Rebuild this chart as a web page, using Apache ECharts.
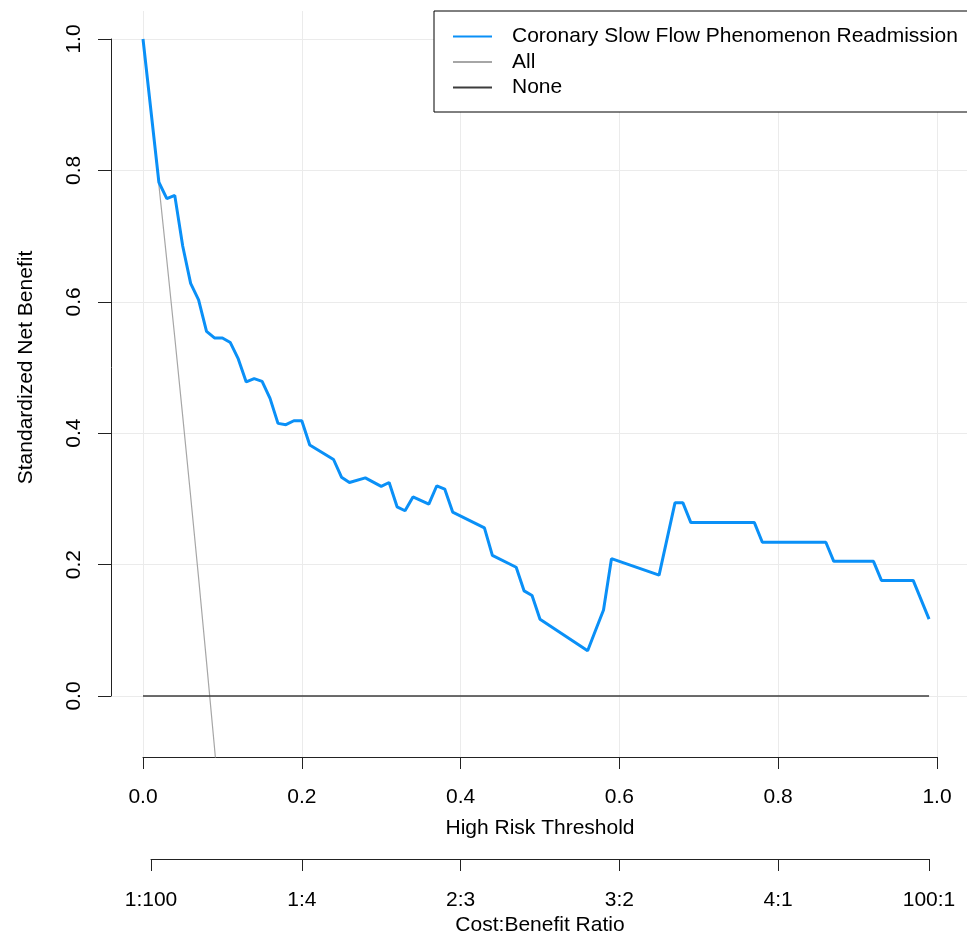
<!DOCTYPE html>
<html>
<head>
<meta charset="utf-8">
<script src="https://cdn.jsdelivr.net/npm/echarts@6/dist/echarts.min.js"></script>
<style>
  html, body { margin: 0; padding: 0; background: #fff; }
  #myChart { width: 967px; height: 937px; }
</style>
</head>
<body>
<div id="myChart"></div>
<script>
// decision curve data
const thresholds = [0, 0.02, 0.03, 0.04, 0.05, 0.06, 0.07, 0.08, 0.09, 0.10,
  0.11, 0.12, 0.13, 0.14, 0.15, 0.16, 0.17, 0.18, 0.19, 0.20,
  0.21, 0.24, 0.25, 0.26, 0.28, 0.30, 0.31, 0.32, 0.33, 0.34,
  0.36, 0.37, 0.38, 0.39, 0.43, 0.44, 0.47, 0.48, 0.49, 0.50,
  0.56, 0.57, 0.58, 0.59, 0.65, 0.67, 0.68, 0.69, 0.77, 0.78,
  0.86, 0.87, 0.92, 0.93, 0.97, 0.99];
const netBenefit = [1.0, 0.782, 0.757, 0.762, 0.685, 0.628, 0.603, 0.555, 0.545, 0.545,
  0.538, 0.513, 0.478, 0.483, 0.479, 0.453, 0.415, 0.413, 0.419, 0.419,
  0.382, 0.360, 0.333, 0.325, 0.332, 0.319, 0.325, 0.288, 0.282, 0.303,
  0.292, 0.320, 0.315, 0.280, 0.256, 0.214, 0.196, 0.160, 0.153, 0.117,
  0.069, 0.100, 0.131, 0.209, 0.184, 0.294, 0.294, 0.264, 0.264, 0.234,
  0.234, 0.205, 0.205, 0.176, 0.176, 0.117];

const allThresholds = [0, 0.01, 0.02, 0.03, 0.04, 0.05, 0.06, 0.07, 0.08, 0.09, 0.10];
const allBenefit = [1.0, 0.89, 0.778, 0.663, 0.546, 0.426, 0.304, 0.18, 0.052, -0.078, -0.211];

const noneThresholds = [0, 0.99];
const noneBenefit = [0, 0];

const costTickValues = [0.01, 0.2, 0.4, 0.6, 0.8, 0.99];
const costTickLabels = ['1:100', '1:4', '2:3', '3:2', '4:1', '100:1'];

const seriesNames = ['Coronary Slow Flow Phenomenon Readmission', 'All', 'None'];

function zip(xs, ys) {
  return xs.map((x, i) => [x, ys[i]]);
}

const font = 'Liberation Sans, Arial, Helvetica, sans-serif';
const gridColor = '#ebebeb';
const axisColor = '#222';

const myChart = echarts.init(document.getElementById('myChart'));

const option = {
  animation: false,
  backgroundColor: '#fff',
  textStyle: { fontFamily: font },
  grid: [
    // plotting area (x from 0 to 1)
    { left: 143, width: 794, top: 11, height: 746, outerBoundsMode: 'none' },
    // y axis + horizontal grid lines
    { left: 111, width: 856, top: 39, height: 657, outerBoundsMode: 'none' },
    // cost:benefit axis
    { left: 151, width: 778, top: 800, height: 59, outerBoundsMode: 'none' }
  ],
  xAxis: [
    {
      gridIndex: 0, type: 'value', min: 0, max: 1, interval: 0.2,
      axisLine: { show: true, onZero: false, lineStyle: { color: axisColor, width: 1 } },
      axisTick: { show: true, length: 12, lineStyle: { color: axisColor } },
      axisLabel: { fontSize: 21, lineHeight: 21, color: '#000', margin: 30, fontFamily: font,
        formatter: v => v.toFixed(1) },
      splitLine: { show: true, lineStyle: { color: gridColor, width: 1 } },
      name: 'High Risk Threshold', nameLocation: 'middle', nameGap: 61,
      nameTextStyle: { fontSize: 21, lineHeight: 21, color: '#000', fontFamily: font }
    },
    { gridIndex: 1, type: 'value', min: 0, max: 1, show: false },
    {
      gridIndex: 2, type: 'value', min: 0.01, max: 0.99,
      axisLine: { show: true, onZero: false, lineStyle: { color: axisColor, width: 1 } },
      axisTick: { show: true, length: 12, customValues: costTickValues, lineStyle: { color: axisColor } },
      axisLabel: {
        fontSize: 21, lineHeight: 21, color: '#000', margin: 31, fontFamily: font,
        customValues: costTickValues,
        formatter: v => {
          const i = costTickValues.findIndex(c => Math.abs(c - v) < 1e-6);
          return i >= 0 ? costTickLabels[i] : '';
        }
      },
      splitLine: { show: false },
      name: 'Cost:Benefit Ratio', nameLocation: 'middle', nameGap: 56,
      nameTextStyle: { fontSize: 21, lineHeight: 21, color: '#000', fontFamily: font }
    }
  ],
  yAxis: [
    { gridIndex: 0, type: 'value', min: -0.0928, max: 1.0426, show: false },
    {
      gridIndex: 1, type: 'value', min: 0, max: 1, interval: 0.2,
      axisLine: { show: true, lineStyle: { color: axisColor, width: 1 } },
      axisTick: { show: true, length: 13, lineStyle: { color: axisColor } },
      axisLabel: { fontSize: 21, lineHeight: 21, color: '#000', margin: 26, rotate: 90, fontFamily: font,
        formatter: v => v.toFixed(1) },
      splitLine: { show: true, lineStyle: { color: gridColor, width: 1 } },
      name: 'Standardized Net Benefit', nameLocation: 'middle', nameGap: 74, nameRotate: 90,
      nameTextStyle: { fontSize: 21, lineHeight: 21, color: '#000', fontFamily: font }
    },
    { gridIndex: 2, type: 'value', min: 0, max: 1, show: false }
  ],
  legend: {
    orient: 'vertical',
    left: 434, top: 11,
    padding: [15, 30, 14, 18],
    itemGap: 4.5,
    itemWidth: 39,
    itemHeight: 14,
    borderColor: '#000',
    borderWidth: 1,
    backgroundColor: '#fff',
    data: seriesNames.map(n => ({ name: n, itemStyle: { opacity: 0 } })),
    textStyle: { fontSize: 21, lineHeight: 21, color: '#000', fontFamily: font, padding: [0, 0, 0, 15] }
  },
  series: [
    {
      name: seriesNames[1], type: 'line', xAxisIndex: 0, yAxisIndex: 0,
      data: zip(allThresholds, allBenefit),
      symbol: 'none', clip: true, z: 2,
      lineStyle: { color: '#a6a6a6', width: 1.2 },
      itemStyle: { color: '#a6a6a6' }
    },
    {
      name: seriesNames[2], type: 'line', xAxisIndex: 0, yAxisIndex: 0,
      data: zip(noneThresholds, noneBenefit),
      symbol: 'none', clip: true, z: 2,
      lineStyle: { color: '#3c3c3c', width: 1.6 },
      itemStyle: { color: '#3c3c3c' }
    },
    {
      name: seriesNames[0], type: 'line', xAxisIndex: 0, yAxisIndex: 0,
      data: zip(thresholds, netBenefit),
      symbol: 'none', clip: true, z: 3,
      lineStyle: { color: '#0a90f7', width: 3 },
      itemStyle: { color: '#0a90f7' }
    }
  ]
};

myChart.setOption(option);
</script>
</body>
</html>
